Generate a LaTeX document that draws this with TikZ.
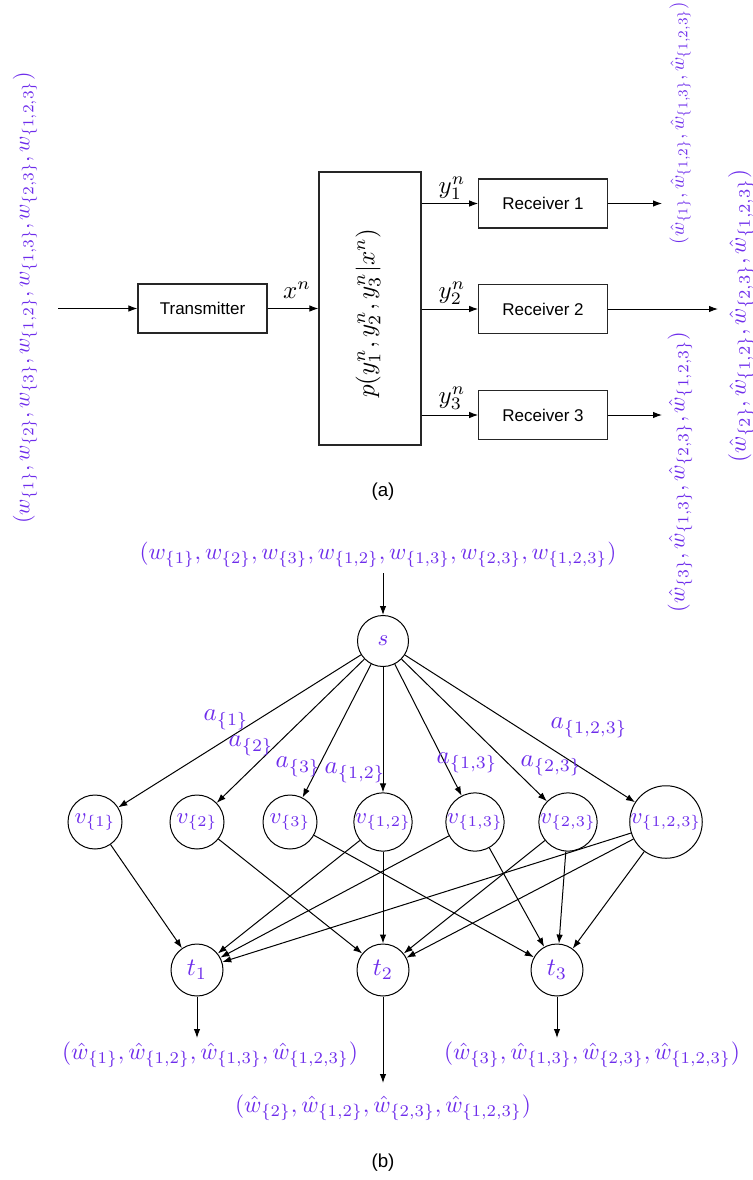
\documentclass[tikz,border=0pt]{standalone}
\usepackage{fontspec}
\newfontfamily\hv{Liberation Sans}
\usetikzlibrary{arrows.meta}
\definecolor{lbl}{RGB}{110,45,235}
\newcommand\boxfont{\hv\fontsize{6.8}{8}\selectfont}
\newcommand\capfont{\hv\fontsize{7.5}{9}\selectfont}
\begin{document}
\begin{tikzpicture}[x=0.4pt,y=-0.4pt,
  arr/.style={-{Latex[length=3.6pt,width=2.6pt]},line width=0.4pt},
  blk/.style={draw=black!85,line width=0.45pt,inner sep=0pt,font=\boxfont,minimum width=51.4pt,minimum height=19.6pt},
  circ/.style={circle,draw,line width=0.4pt,inner sep=0pt,text=lbl,minimum size=21.6pt,font=\small},
  lb/.style={text=lbl,inner sep=0pt},
  bl/.style={inner sep=0pt}]
\useasboundingbox (0,0) rectangle (753,1180);
% ---------- (a) ----------
\node[lb,rotate=90,scale=0.88] (win) at (25,298) {$(w_{\{1\}},w_{\{2\}},w_{\{3\}},w_{\{1,2\}},w_{\{1,3\}},w_{\{2,3\}},w_{\{1,2,3\}})$};
\coordinate (ain) at (58,308.5);
\node[blk,minimum width=51.6pt] (tx) at (202.5,308.5) {Transmitter};
\node[blk,minimum width=40.8pt,minimum height=109.2pt] (ch) at (370,308.5) {};
\node[bl,rotate=90] (chl) at (368,313) {$p(y_1^n,y_2^n,y_3^n|x^n)$};
\node[blk] (r1) at (543,203.5) {Receiver 1};
\node[blk] (r2) at (543,309) {Receiver 2};
\node[blk] (r3) at (543,415) {Receiver 3};
\draw[arr] (ain) -- (tx);
\draw[arr] (tx) -- (ch);
\node[bl] (xl) at (297,290) {$x^n$};
\draw[arr] (ch.east |- r1) -- (r1);
\draw[arr] (ch.east |- r2) -- (r2);
\draw[arr] (ch.east |- r3) -- (r3);
\node[bl] (y1l) at (452,188) {$y_1^n$};
\node[bl] (y2l) at (452,293) {$y_2^n$};
\node[bl] (y3l) at (452,398) {$y_3^n$};
\coordinate (o1) at (662,203.5);
\coordinate (o2) at (718,309);
\coordinate (o3) at (662,415);
\draw[arr] (r1) -- (o1);
\draw[arr] (r2) -- (o2);
\draw[arr] (r3) -- (o3);
\node[lb,rotate=90,scale=0.77] (wo1) at (680,123) {$(\hat w_{\{1\}},\hat w_{\{1,2\}},\hat w_{\{1,3\}},\hat w_{\{1,2,3\}})$};
\node[lb,rotate=90,scale=0.93] (wo2) at (741,316) {$(\hat w_{\{2\}},\hat w_{\{1,2\}},\hat w_{\{2,3\}},\hat w_{\{1,2,3\}})$};
\node[lb,rotate=90,scale=0.89] (wo3) at (680,472) {$(\hat w_{\{3\}},\hat w_{\{1,3\}},\hat w_{\{2,3\}},\hat w_{\{1,2,3\}})$};
\node[bl,font=\capfont] (capa) at (383,492) {(a)};
% ---------- (b) ----------
\node[lb,scale=0.93] (wtop) at (378,555) {$(w_{\{1\}},w_{\{2\}},w_{\{3\}},w_{\{1,2\}},w_{\{1,3\}},w_{\{2,3\}},w_{\{1,2,3\}})$};
\coordinate (sin) at (383,573);
\node[circ,minimum size=20.4pt] (s) at (383,641) {$s$};
\draw[arr] (sin) -- (s);
\node[circ] (v1) at (95,822) {$v_{\{1\}}$};
\node[circ] (v2) at (197,822) {$v_{\{2\}}$};
\node[circ] (v3) at (290,822) {$v_{\{3\}}$};
\node[circ] (v12) at (383,822) {$v_{\{1,2\}}$};
\node[circ] (v13) at (475,822) {$v_{\{1,3\}}$};
\node[circ] (v23) at (568,822) {$v_{\{2,3\}}$};
\node[circ,minimum size=24.8pt] (v123) at (666,822) {$v_{\{1,2,3\}}$};
\foreach \v in {v1,v2,v3,v12,v13,v23,v123} \draw[arr] (s) -- (\v);
\node[lb] (a1) at (226,720) {$a_{\{1\}}$};
\node[lb] (a2) at (251,746) {$a_{\{2\}}$};
\node[lb] (a3) at (298,767) {$a_{\{3\}}$};
\node[lb] (a12) at (355,773) {$a_{\{1,2\}}$};
\node[lb] (a13) at (467,763) {$a_{\{1,3\}}$};
\node[lb] (a23) at (551,766) {$a_{\{2,3\}}$};
\node[lb] (a123) at (589,728) {$a_{\{1,2,3\}}$};
\node[circ,minimum size=20.8pt,font=\normalsize] (t1) at (197,970) {$t_1$};
\node[circ,minimum size=20.8pt,font=\normalsize] (t2) at (383,970) {$t_2$};
\node[circ,minimum size=20.8pt,font=\normalsize] (t3) at (557,970) {$t_3$};
\draw[arr] (v1) -- (t1);
\draw[arr] (v2) -- (t2);
\draw[arr] (v3) -- (t3);
\draw[arr] (v12) -- (t1);
\draw[arr] (v12) -- (t2);
\draw[arr] (v13) -- (t1);
\draw[arr] (v13) -- (t3);
\draw[arr] (v23) -- (t2);
\draw[arr] (v23) -- (t3);
\draw[arr] (v123) -- (t1);
\draw[arr] (v123) -- (t2);
\draw[arr] (v123) -- (t3);
\coordinate (e1) at (197,1038);
\coordinate (e2) at (383,1083);
\coordinate (e3) at (557,1038);
\draw[arr] (t1) -- (e1);
\draw[arr] (t2) -- (e2);
\draw[arr] (t3) -- (e3);
\node[lb,scale=0.94] (wb1) at (210,1055) {$(\hat w_{\{1\}},\hat w_{\{1,2\}},\hat w_{\{1,3\}},\hat w_{\{1,2,3\}})$};
\node[lb,scale=0.94] (wb2) at (383,1108) {$(\hat w_{\{2\}},\hat w_{\{1,2\}},\hat w_{\{2,3\}},\hat w_{\{1,2,3\}})$};
\node[lb,scale=0.94] (wb3) at (592,1055) {$(\hat w_{\{3\}},\hat w_{\{1,3\}},\hat w_{\{2,3\}},\hat w_{\{1,2,3\}})$};
\node[bl,font=\capfont] (capb) at (383,1163) {(b)};
\end{tikzpicture}
\end{document}
